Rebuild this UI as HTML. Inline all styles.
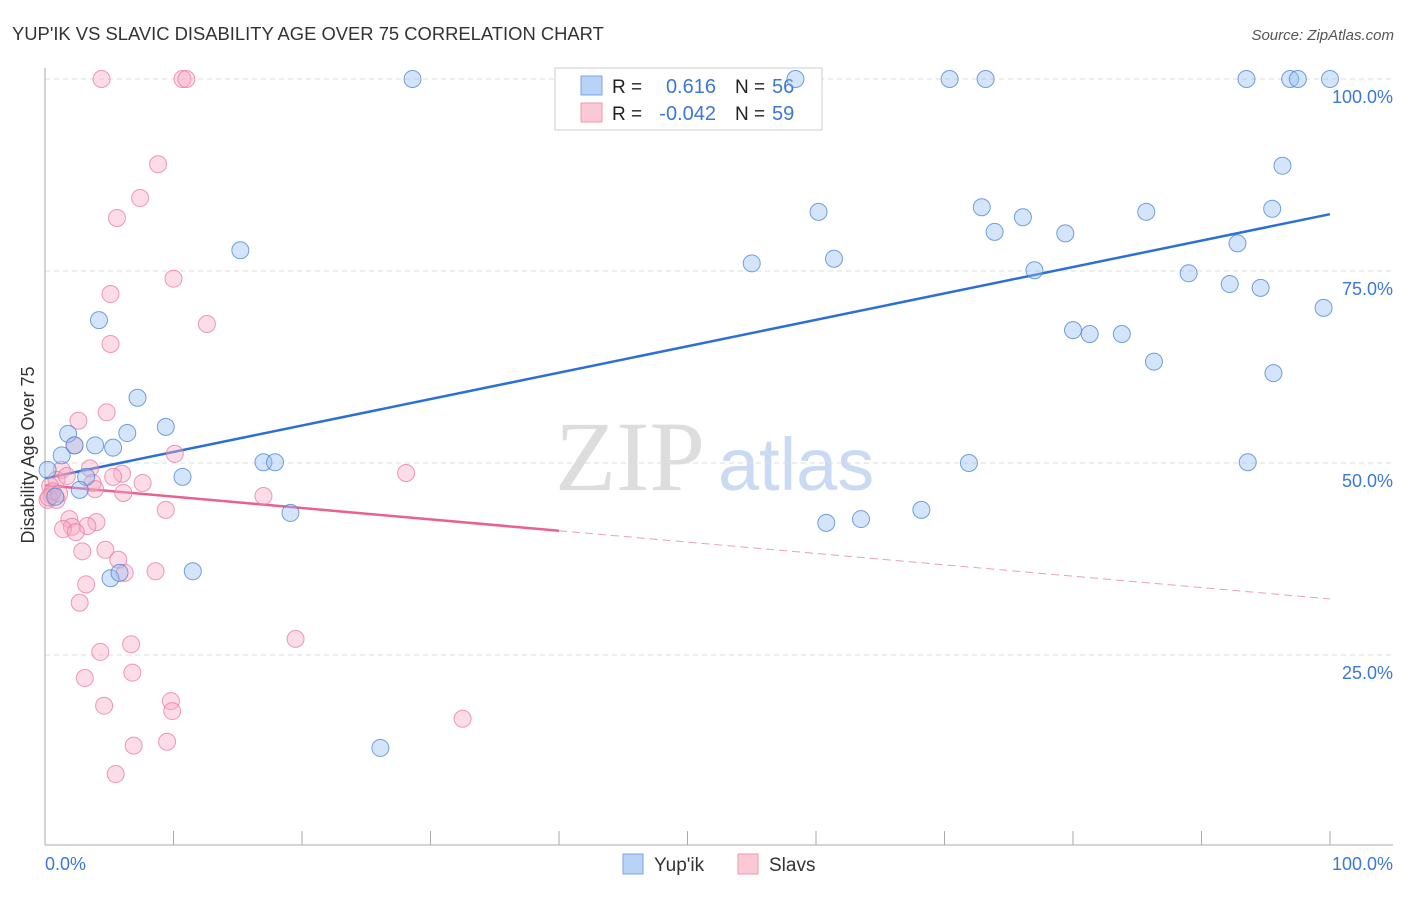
<!DOCTYPE html>
<html><head><meta charset="utf-8"><style>
body{margin:0;background:#fff;font-family:"Liberation Sans",sans-serif}
</style></head><body>
<svg id="chart" width="1406" height="892" xmlns="http://www.w3.org/2000/svg" font-family="Liberation Sans, sans-serif">
<text x="12" y="40" font-size="18.4" fill="#333">YUP'IK VS SLAVIC DISABILITY AGE OVER 75 CORRELATION CHART</text>
<text x="1394" y="40" font-size="15" fill="#555" text-anchor="end" font-style="italic">Source: ZipAtlas.com</text>
<text x="555" y="490" font-size="100" fill="#ddd" style="font-family:'Liberation Serif',serif">ZIP</text>
<text x="718" y="490" font-size="74" fill="#c9daf2">atlas</text>
<g id="grid"></g>
<g id="axes"></g>
<g>
<rect x="555" y="68" width="267" height="62" fill="#fff" stroke="#ccc"/>
<rect x="581" y="76" width="21" height="19" fill="#b8d3f5" stroke="#7aa6e6"/>
<rect x="581" y="103" width="21" height="19" fill="#fbc8d6" stroke="#ee9ab3"/>
<text x="612" y="93" font-size="19" fill="#222">R =</text>
<text x="716" y="93" font-size="20" fill="#3b78d8" text-anchor="end">0.616</text>
<text x="735" y="93" font-size="19" fill="#222">N =</text>
<text x="772" y="93" font-size="20" fill="#3b78d8">56</text>
<text x="612" y="120" font-size="19" fill="#222">R =</text>
<text x="716" y="120" font-size="20" fill="#3b78d8" text-anchor="end">-0.042</text>
<text x="735" y="120" font-size="19" fill="#222">N =</text>
<text x="772" y="120" font-size="20" fill="#3b78d8">59</text>
</g>
<g id="trend"></g>
<g id="pts"></g>
<text transform="translate(34,455) rotate(-90)" font-size="18" fill="#333" text-anchor="middle">Disability Age Over 75</text>
<text x="45" y="870" font-size="18" fill="#3b78d8">0.0%</text>
<text x="1393" y="870" font-size="18" fill="#3b78d8" text-anchor="end">100.0%</text>
<g>
<rect x="623" y="854" width="20" height="20" fill="#b8d3f5" stroke="#7aa6e6"/>
<text x="654" y="871" font-size="19" fill="#333">Yup'ik</text>
<rect x="738" y="854" width="20" height="20" fill="#fbc8d6" stroke="#ee9ab3"/>
<text x="769" y="871" font-size="19" fill="#333">Slavs</text>
</g>
</svg>
<script>
const yTicks=[25,50,75,100];
const yTickLabels=["25.0%","50.0%","75.0%","100.0%"];
const xTicks=[0,10,20,30,40,50,60,70,80,90,100];
const blueX=[28.6,58.4,70.4,73.2,93.5,96.9,97.5,100,96.3,60.2,72.9,76.1,85.7,95.5,73.9,79.4,92.8,15.2,55.0,61.4,77.0,89.0,92.2,94.6,99.5,4.2,80.0,81.3,83.8,86.3,95.6,7.2,9.4,1.8,6.4,2.3,3.9,5.3,1.3,17.0,17.9,71.9,93.6,0.2,3.2,10.7,2.7,0.8,19.1,68.2,60.8,63.5,11.5,5.1,5.8,26.1];
const blueY=[100,100,100,100,100,100,100,100,88.7,82.7,83.3,82.0,82.7,83.1,80.1,79.9,78.6,77.7,76.0,76.6,75.1,74.7,73.3,72.8,70.2,68.6,67.3,66.8,66.8,63.2,61.7,58.5,54.7,53.8,53.9,52.3,52.3,52.0,51.0,50.1,50.1,50.0,50.1,49.1,48.2,48.2,46.5,45.6,43.5,43.9,42.2,42.7,35.9,35.0,35.7,12.9];
const pinkX=[4.4,10.7,11.0,8.8,7.4,5.6,10.0,5.1,12.6,5.1,4.8,2.6,2.3,10.1,3.5,1.3,28.1,6.0,5.3,0.9,1.7,7.6,3.7,0.4,3.9,6.1,0.5,17.0,0.2,0.9,9.4,1.9,4.0,2.1,3.3,1.4,2.4,4.7,2.9,5.7,8.6,6.2,3.2,2.7,6.7,19.5,4.3,6.8,3.1,9.8,9.9,4.6,32.5,6.9,9.5,5.5,0.6,0.3,1.1];
const pinkY=[100,100,100,88.9,84.5,81.9,74.0,72.0,68.1,65.5,56.6,55.5,52.3,51.2,49.3,49.1,48.7,48.6,48.2,47.8,48.3,47.4,47.4,47.0,46.6,46.1,45.8,45.7,45.2,45.2,43.9,42.7,42.3,41.7,41.8,41.4,41.0,38.7,38.5,37.4,35.9,35.7,34.2,31.8,26.4,27.1,25.4,22.7,22.0,19.0,17.7,18.4,16.7,13.2,13.7,9.5,46.3,45.5,46.0];
const blueTrend=[48.0,82.4];
const pinkTrend=[47.1,32.3];
const pinkSolidEnd=40;
const X0=45,X1=1330,Y0=847,Y100=79;
const sx=v=>X0+(X1-X0)*v/100, sy=v=>Y0-(Y0-Y100)*v/100;
const NS="http://www.w3.org/2000/svg";
function mk(tag,parent,attrs){const e=document.createElementNS(NS,tag);for(const k in attrs)e.setAttribute(k,attrs[k]);document.getElementById(parent).appendChild(e);return e;}
yTicks.forEach((t,i)=>{
 const l=mk('line','grid',{x1:45,x2:1393,y1:sy(t),y2:sy(t),stroke:'#ddd','stroke-dasharray':'5,4'});
 
 
 const tx=mk('text','grid',{x:1393,y:sy(t)+24,'font-size':18,fill:'#3b78d8','text-anchor':'end'});
 tx.textContent=yTickLabels[i];
 
 
});
let a=mk('line','axes',{x1:45,x2:45,y1:68,y2:845,stroke:'#aaa'});


a=mk('line','axes',{x1:45,x2:1393,y1:845,y2:845,stroke:'#aaa'});


xTicks.forEach(t=>{const l=mk('line','axes',{x1:sx(t),x2:sx(t),y1:831,y2:845,stroke:'#aaa'});
 
 });
let tl=mk('line','trend',{x1:sx(0),y1:sy(blueTrend[0]),x2:sx(100),y2:sy(blueTrend[1]),stroke:'#2c6fd6','stroke-width':2.5});


const pAt=v=>pinkTrend[0]+(pinkTrend[1]-pinkTrend[0])*v/100;
tl=mk('line','trend',{x1:sx(0),y1:sy(pAt(0)),x2:sx(pinkSolidEnd),y2:sy(pAt(pinkSolidEnd)),stroke:'#e8618f','stroke-width':2.5});


tl=mk('line','trend',{x1:sx(pinkSolidEnd),y1:sy(pAt(pinkSolidEnd)),x2:sx(100),y2:sy(pAt(100)),stroke:'#e8a0b8','stroke-width':1,'stroke-dasharray':'8,5'});


pinkX.forEach((x,i)=>{const c=mk('circle','pts',{cx:sx(x),cy:sy(pinkY[i]),r:8.5,fill:'rgba(248,170,195,0.4)',stroke:'rgba(232,120,160,0.75)','stroke-width':1});
 
 });
blueX.forEach((x,i)=>{const c=mk('circle','pts',{cx:sx(x),cy:sy(blueY[i]),r:8.5,fill:'rgba(150,190,240,0.4)',stroke:'rgba(70,130,215,0.75)','stroke-width':1});
 
 });
</script>
</body></html>
